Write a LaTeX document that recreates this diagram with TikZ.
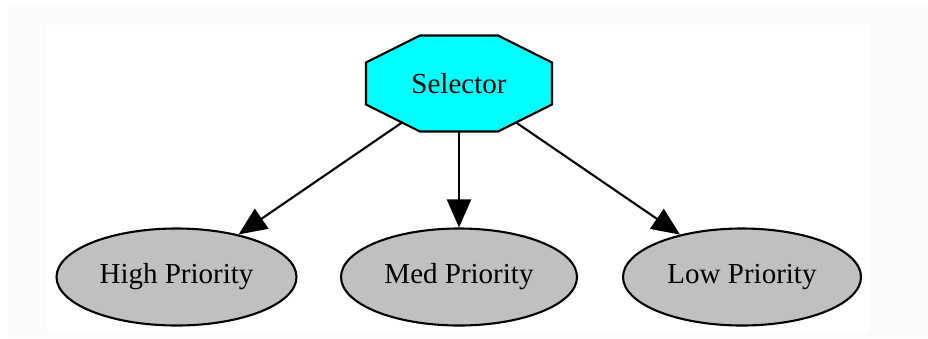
\documentclass[tikz,border=0pt]{standalone}
\usepackage{fontspec}
\setmainfont{Liberation Serif}
\usetikzlibrary{arrows.meta,shapes.geometric}
\definecolor{pagegray}{HTML}{FBFBFB}
\definecolor{selcyan}{HTML}{00FFFF}
\definecolor{leafgray}{HTML}{C0C0C0}
\tikzset{
  lbl/.style={font=\fontsize{29}{32}\selectfont, text=black},
  leaf/.style={lbl, ellipse, draw=black, line width=2.1pt, fill=leafgray,
    minimum width=240pt, minimum height=97pt, inner sep=0pt},
  selanchor/.style={lbl, ellipse, minimum width=186pt, minimum height=96pt, inner sep=0pt},
  octo/.style={draw=black, line width=2.1pt, fill=selcyan, line join=miter},
  edge/.style={draw=black, line width=2.1pt, -{Triangle[length=28pt,width=24pt]}}
}
\begin{document}
\begin{tikzpicture}[x=1pt,y=-1pt]
  \useasboundingbox (0,0) rectangle (928,338);
  % page background with the lighter drawing area
  \fill[white] (0,0) rectangle (928,338);
  \fill[pagegray] (8,5) rectangle (928,338);
  \fill[white] (47,25) rectangle (870,333);

  % selector: octagon outline around an elliptic anchor node
  \coordinate (selc) at (459,83.5);
  \draw[octo, shift={(selc)}] (-39,-48) -- (39,-48) -- (93,-21) -- (93,21)
       -- (39,48) -- (-39,48) -- (-93,21) -- (-93,-21) -- cycle;
  \node[selanchor] (sel) at (selc) {Selector};

  % priority leaves
  \node[leaf] (high) at (176.5,277) {High Priority};
  \node[leaf, minimum width=236pt] (med) at (459,277) {Med Priority};
  \node[leaf, minimum width=238pt] (low) at (742,277) {Low Priority};

  % connectors
  \draw[edge] (sel) -- (high);
  \draw[edge] (sel) -- (med);
  \draw[edge] (sel) -- (low);
\end{tikzpicture}
\end{document}
